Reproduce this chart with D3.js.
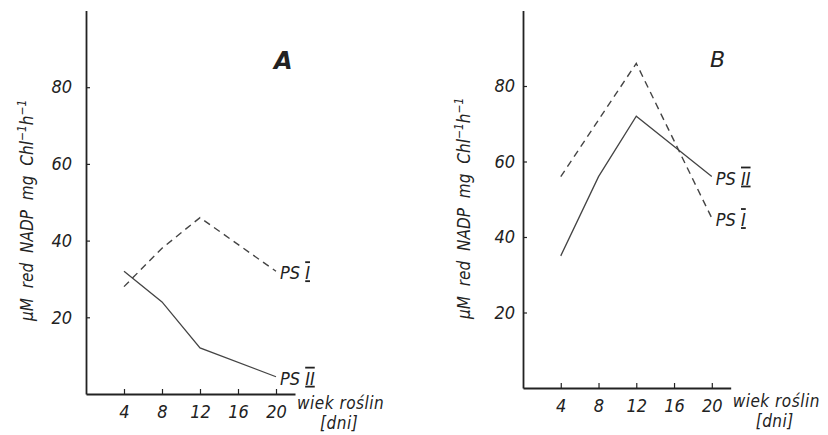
<!DOCTYPE html>
<html>
<head>
<meta charset="utf-8">
<script src="https://cdn.jsdelivr.net/npm/d3@7"></script>
<style>
  body { margin: 0; background: #fff; }
  svg { display: block; }
  text { font-family: "DejaVu Sans Condensed", "DejaVu Sans", sans-serif; font-style: italic; fill: #222; }
  .axis path, .axis line { stroke: #222; }
  .axis text { font-size: 18px; }
</style>
</head>
<body>
<div id="chart"></div>
<script>
var days = [4, 8, 12, 20];
var psIA = [28, 38, 46, 32];
var psIIA = [32, 24, 12, 4.5];
var psIB = [56, 71, 86, 45];
var psIIB = [35, 56, 72, 56];
var xTicks = [4, 8, 12, 16, 20];
var yTicks = [20, 40, 60, 80];
var panelNames = ["A", "B"];

var w = 828, h = 435;
var svg = d3.select("#chart").append("svg").attr("width", w).attr("height", h);

// panel layout (pixel geometry of each plot)
var panels = [
    { name: panelNames[0], x0: 86, xUnit: 9.5, y0: 394, yUnit: 3.835, ps1: psIA, ps2: psIIA,
      labelGap: 14, titleX: 33, titleY: 321, nameX: 274, nameY: 69, bold: true, nameSize: 24,
      xt1: 15, xt2: 35 },
    { name: panelNames[1], x0: 523, xUnit: 9.44, y0: 388, yUnit: 3.775, ps1: psIB, ps2: psIIB,
      labelGap: 8, titleX: 470, titleY: 319, nameX: 710, nameY: 67, bold: false, nameSize: 22,
      xt1: 19, xt2: 39 }
];

panels.forEach(function(p) {
    var xScale = d3.scaleLinear().domain([0, 22]).range([p.x0, p.x0 + 22 * p.xUnit]);
    var yScale = d3.scaleLinear().domain([0, 100]).range([p.y0, p.y0 - 100 * p.yUnit]);

    var g = svg.append("g");

    // axes - ticks point inwards
    var xAxis = d3.axisBottom(xScale).tickValues(xTicks).tickSizeInner(-5).tickSizeOuter(0).tickPadding(11);
    var yAxis = d3.axisLeft(yScale).tickValues(yTicks).tickSizeInner(-4).tickSizeOuter(0).tickPadding(p.labelGap);

    var gx = g.append("g").attr("class", "axis").attr("transform", "translate(0," + p.y0 + ")").call(xAxis);
    var gy = g.append("g").attr("class", "axis").attr("transform", "translate(" + p.x0 + ",0)").call(yAxis);
    gx.select(".domain").attr("stroke-width", 1.8);
    gy.select(".domain").attr("stroke-width", 1.8);
    gx.selectAll(".tick line").attr("stroke-width", 1.2);
    gy.selectAll(".tick line").attr("stroke-width", 1.2);
    gx.selectAll(".tick text").style("fill", "#222");
    gy.selectAll(".tick text").style("fill", "#222");

    var line = d3.line()
        .x(function(d, i) { return xScale(days[i]); })
        .y(function(d) { return yScale(d); });

    // PS I dashed, PS II solid
    g.append("path").datum(p.ps1).attr("d", line)
        .attr("fill", "none").attr("stroke", "#444").attr("stroke-width", 1.4)
        .attr("stroke-dasharray", "7,5");
    g.append("path").datum(p.ps2).attr("d", line)
        .attr("fill", "none").attr("stroke", "#444").attr("stroke-width", 1.3);

    // series labels next to last point
    var last = days.length - 1;
    var labs = [{ v: p.ps1[last], num: "I" }, { v: p.ps2[last], num: "II" }];
    labs.forEach(function(l) {
        var t = g.append("text")
            .attr("x", xScale(days[last]) + 4)
            .attr("y", yScale(l.v) + 8)
            .style("font-size", "18px");
        t.append("tspan").text("PS ");
        t.append("tspan").text(l.num).style("text-decoration", "underline overline");
    });

    // panel letter
    g.append("text").attr("x", p.nameX).attr("y", p.nameY)
        .text(p.name)
        .style("font-size", p.nameSize + "px")
        .style("font-weight", p.bold ? "bold" : "normal")
        .style("font-family", "'DejaVu Sans', sans-serif");

    // x title
    g.append("text").attr("x", xScale(22) + 2).attr("y", p.y0 + p.xt1)
        .text("wiek roślin").style("font-size", "17px").style("letter-spacing", "0.5px");
    g.append("text").attr("x", xScale(22) + 25).attr("y", p.y0 + p.xt2)
        .text("[dni]").style("font-size", "17px").style("letter-spacing", "0.5px");

    // y title, rotated
    var yt = g.append("text")
        .attr("transform", "translate(" + p.titleX + "," + p.titleY + ") rotate(-90)")
        .style("font-size", "17px")
        .style("word-spacing", "5px");
    yt.append("tspan").text("\u03bcM red NADP mg Chl");
    yt.append("tspan").text("\u22121").attr("baseline-shift", "super").style("font-size", "12px");
    yt.append("tspan").text("h");
    yt.append("tspan").text("\u22121").attr("baseline-shift", "super").style("font-size", "12px");
});
</script>
</body>
</html>
